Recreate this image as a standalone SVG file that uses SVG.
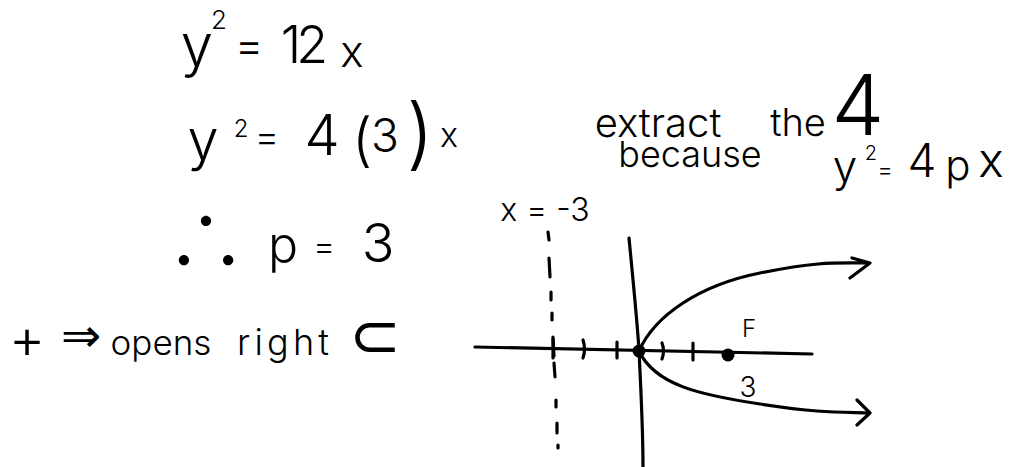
<svg xmlns="http://www.w3.org/2000/svg" width="1013" height="467" viewBox="0 0 1013 467">
<style>
.t{font-family:Inter,"Liberation Sans","DejaVu Sans",sans-serif;font-weight:300;fill:#000;text-anchor:middle}
.s{font-family:"DejaVu Sans","Liberation Sans",sans-serif;font-weight:normal;fill:#000;text-anchor:middle}
.c{font-family:"Noto Sans CJK SC","DejaVu Sans",sans-serif;font-weight:300;fill:#000;text-anchor:middle}
.ln{fill:none;stroke:#000;stroke-width:3.2;stroke-linecap:round;stroke-linejoin:round}
</style>
<rect width="1013" height="467" fill="#fff"/>
<g id="line1">
<text class="t" y="66"><tspan x="197" font-size="58">y</tspan><tspan x="219" y="29" font-size="26">2</tspan><tspan x="249" y="61" font-size="44">=</tspan><tspan x="302" y="63" font-size="52" letter-spacing="-5">12</tspan><tspan x="352" y="67" font-size="44">x</tspan></text>
</g>
<g id="line2">
<text class="t" y="160"><tspan x="203" font-size="56">y</tspan><tspan x="241" y="137" font-size="24">2</tspan><tspan x="267" y="150" font-size="38">=</tspan><tspan x="322" y="155" font-size="56">4</tspan><tspan x="362" y="160" font-size="58">(</tspan><tspan x="385" y="152" font-size="46">3</tspan><tspan x="420" y="160" font-size="78">)</tspan><tspan x="449" y="147" font-size="34">x</tspan></text>
</g>
<g id="line3">
<text class="t" y="262"><tspan class="c" x="206" y="270" font-size="80">∴</tspan><tspan x="283" y="262" font-size="50">p</tspan><tspan x="324" y="258" font-size="34">=</tspan><tspan x="378" y="262" font-size="54">3</tspan></text>
</g>
<g id="line4">
<text class="t" y="355"><tspan x="27" y="358" font-size="56">+</tspan><tspan class="s" x="81" y="352" font-size="48">⇒</tspan><tspan x="161" y="355" font-size="35">opens</tspan><tspan x="283" y="355" font-size="36" textLength="92" lengthAdjust="spacing">right</tspan><tspan class="s" x="375" y="357" font-size="62">⊂</tspan></text>
</g>
<g id="note">
<text class="t" y="137"><tspan x="658" font-size="40">extract</tspan><tspan x="798" y="136" font-size="38">the</tspan><tspan x="858" y="135" font-size="84">4</tspan><tspan x="690" y="167" font-size="36">because</tspan><tspan x="845" y="182" font-size="44">y</tspan><tspan x="871" y="160" font-size="20">2</tspan><tspan x="885" y="178" font-size="24">=</tspan><tspan x="922" y="177" font-size="46">4</tspan><tspan x="958" y="180" font-size="42">p</tspan><tspan x="991" y="177" font-size="48">x</tspan></text>
</g>
<g id="graph">
<text class="t" x="545" y="221" font-size="32">x = -3</text>
<path class="ln" d="M548,232 L549,240 M549,258 L550,277 M551,292 L551,300 M552,313 L552,320 M553,337 L554,356 M554,363 L555,377 M556,400 L556,407 M557,423 L557,433 M558,445 L558,448"/>
<path class="ln" d="M475,347 L812,354"/>
<path class="ln" d="M629,238 C634,290 638,330 639,351 C641,390 643,430 643,467"/>
<path class="ln" d="M553,339 L553,358 M583,340 Q586,349 583,358 M617,342 L617,358 M662,343 Q665,351 662,359 M693,343 L693,360"/>
<circle cx="639" cy="351" r="6.5"/>
<circle cx="728" cy="355" r="6.5"/>
<path class="ln" d="M639,351 C655,315 700,285 760,273 S835,263 870,263 M852,258 L870,263 L850,278"/>
<path class="ln" d="M639,351 C655,385 700,395 760,404 S835,412 870,413 M857,400 L870,413 L857,425"/>
<text class="t" x="749" y="337" font-size="24">F</text>
<text class="t" x="748" y="397" font-size="28">3</text>
</g>
</svg>
